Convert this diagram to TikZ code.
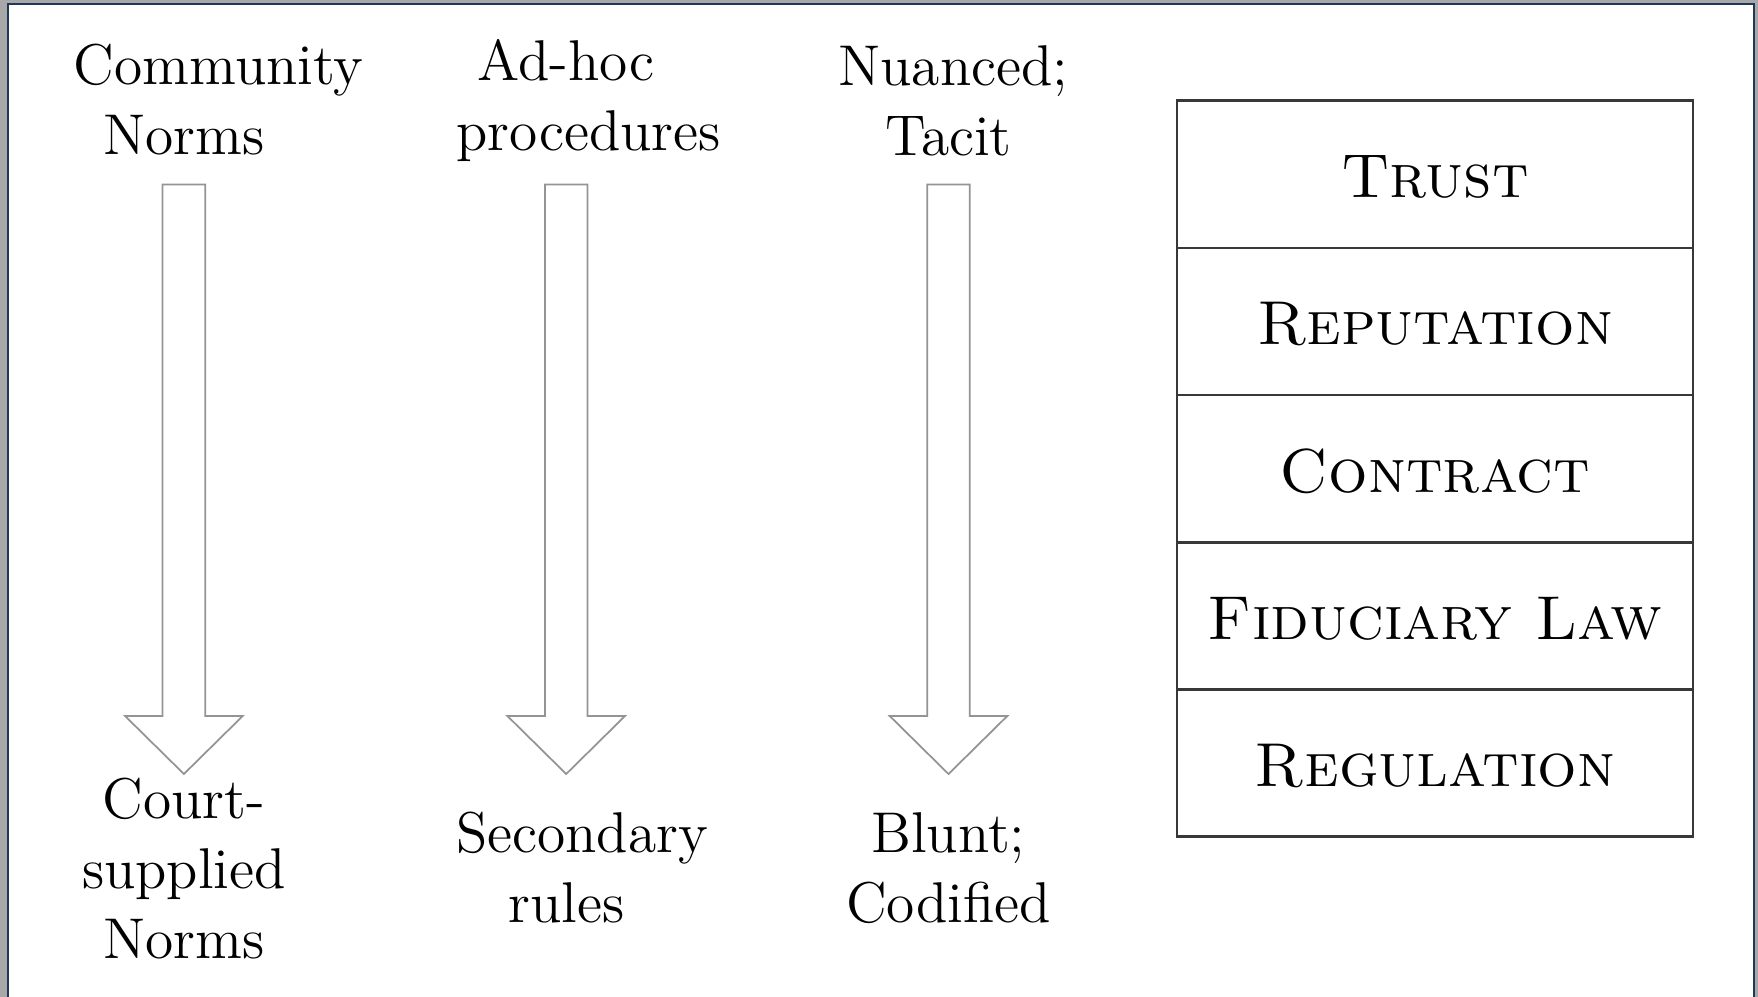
\documentclass[tikz,border=0pt]{standalone}
\usepackage{tikz}
\definecolor{framegrey}{RGB}{168,168,168}
\definecolor{framenavy}{RGB}{30,56,90}
\tikzset{
  lbl/.style={text width=44pt, align=center, inner sep=0pt, anchor=base,
    font=\fontsize{11.5}{14}\selectfont},
  layer/.style={draw=black!78, line width=0.55pt, minimum width=103.2pt,
    minimum height=29.44pt, inner sep=0pt},
  layertext/.style={inner sep=0pt, font=\fontsize{12.4}{15}\selectfont},
  bigarrow/.style={draw=black!42, line width=0.35pt, fill=white, line join=miter},
}
\begin{document}
\begin{tikzpicture}[x=0.2pt,y=-0.2pt]
\useasboundingbox (0,0) rectangle (1758,997);
% screenshot frame
\fill[framegrey] (0,0) rectangle (1758,997);
\fill[framenavy] (6.7,3.3) rectangle (1755.3,997);
\fill[white] (8.7,5) rectangle (1753.3,997);

% top labels
\node[lbl] (t1) at (183.9,85) {Community\\Norms};
\node[lbl] (t2) at (566.2,81) {Ad-hoc\\procedures};
\node[lbl] (t3) at (948.5,85.5) {Nuanced;\\Tacit};

% bottom labels
\node[lbl] (b1) at (183.9,818) {Court-\\supplied\\Norms};
\node[lbl] (b2) at (566.2,852) {Secondary\\rules};
\node[lbl] (b3) at (948.5,852) {Blunt;\\Codified};

% arrows
\foreach \cx in {183.9,566.2,948.5}{
  \draw[bigarrow] (\cx-21.3,184.5) -- (\cx+21.3,184.5) -- (\cx+21.3,716)
    -- (\cx+58.8,716) -- (\cx,774) -- (\cx-58.8,716) -- (\cx-21.3,716) -- cycle;
}

% layers
\node[layer] (l1) at (1435,174.3) {};
\node[layer] (l2) at (1435,321.5) {};
\node[layer] (l3) at (1435,468.7) {};
\node[layer] (l4) at (1435,615.9) {};
\node[layer] (l5) at (1435,763.1) {};
\node[layertext] (l1t) at (1435,177) {\textsc{Trust}};
\node[layertext] (l2t) at (1435,324.2) {\textsc{Reputation}};
\node[layertext] (l3t) at (1435,471.4) {\textsc{Contract}};
\node[layertext] (l4t) at (1435,618.6) {\textsc{Fiduciary Law}};
\node[layertext] (l5t) at (1435,765.8) {\textsc{Regulation}};
\end{tikzpicture}
\end{document}
